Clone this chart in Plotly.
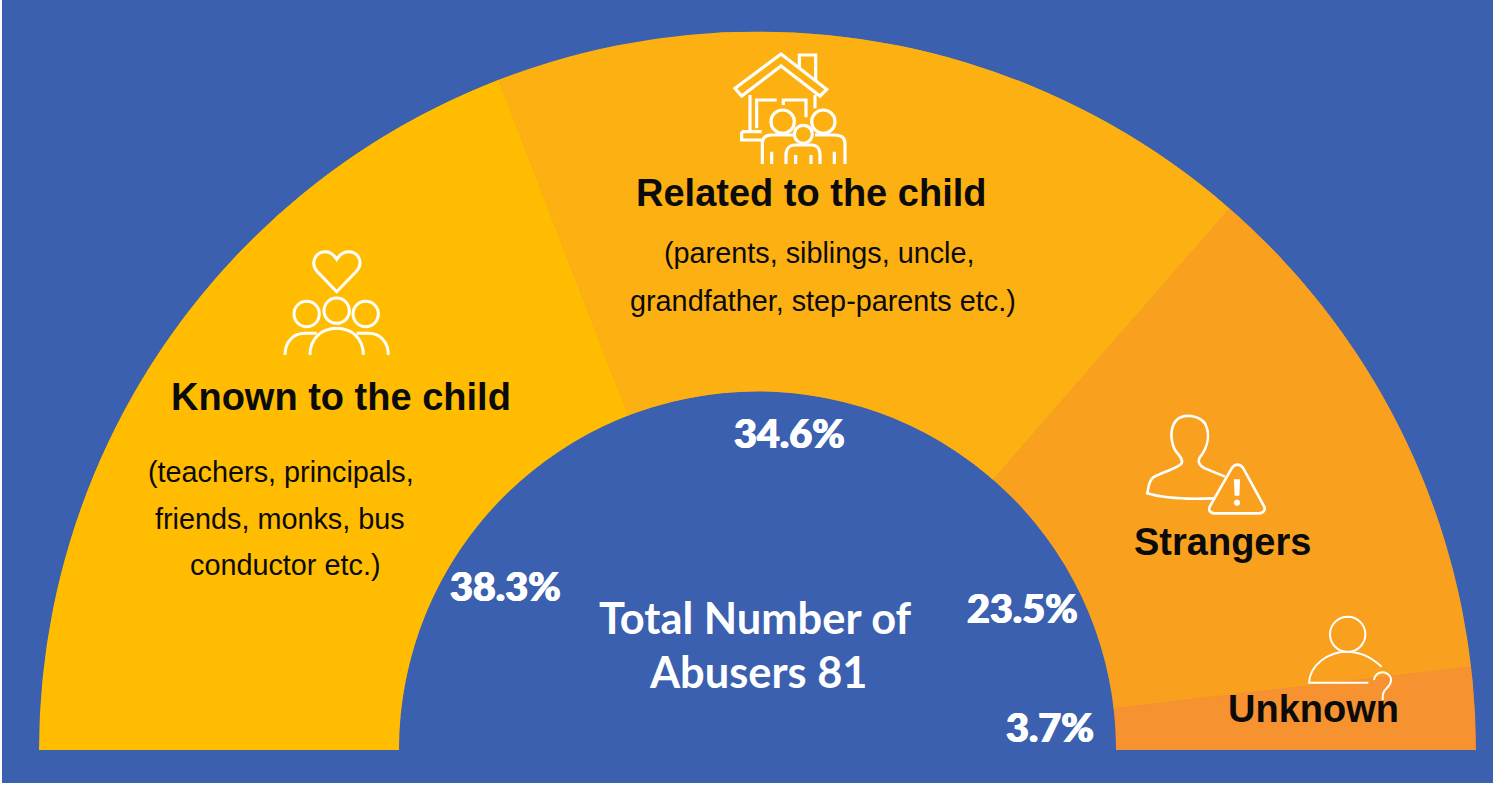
import re
import plotly.graph_objects as go

W, H = 1493, 786

# Abuser relationship shares
categories = ["Known to the child", "Related to the child", "Strangers", "Unknown"]
shares = [38.3, 34.6, 23.5, 3.7]
wedge_colors = ["#FFBC00", "#FDB012", "#F9A11F", "#F79231"]
total_abusers = 81

BLUE = "#3A60AF"
INK = "#0B0B0B"
WHITE = "#FFFFFF"

# Gauge geometry in page pixels
CX, BASE_Y, R_OUT, R_IN = 757.5, 750, 718.5, 358.5


def px(x):
    return x / W


def py(y):
    return 1 - y / H


def to_paper(path, ox, oy):
    """Turn an icon path drawn on a 3x grid into paper coordinates."""
    out, is_x = [], True
    for tok in re.findall(r"[MLCZ]|-?\d+\.?\d*", path):
        if tok in "MLCZ":
            out.append(tok)
        else:
            v = float(tok)
            out.append(f"{px(ox + v / 3):.5f}" if is_x else f"{py(oy + v / 3):.5f}")
            is_x = not is_x
    s, i = [], 0
    while i < len(out):
        if out[i] in "MLCZ":
            s.append(out[i])
            i += 1
        else:
            s.append(f"{out[i]},{out[i + 1]}")
            i += 2
    return " ".join(s)


def line_shape(path, ox, oy, width=3, fill="rgba(0,0,0,0)"):
    return dict(type="path", xref="paper", yref="paper", path=to_paper(path, ox, oy),
                line=dict(color=WHITE, width=width), fillcolor=fill, layer="above")


def ring(cx, cy, r, ox, oy, width=3, fill="rgba(0,0,0,0)"):
    return dict(type="circle", xref="paper", yref="paper",
                x0=px(ox + (cx - r) / 3), x1=px(ox + (cx + r) / 3),
                y0=py(oy + (cy + r) / 3), y1=py(oy + (cy - r) / 3),
                line=dict(color=WHITE, width=width), fillcolor=fill, layer="above")


def label(text, x, y, size, color=INK, family="Liberation Sans", weight=400, shadow=None):
    font = dict(family=family, size=size, color=color, weight=weight)
    if shadow:
        font["shadow"] = shadow
    return dict(text=text, x=px(x), y=py(y), xref="paper", yref="paper",
                xanchor="center", yanchor="middle", showarrow=False, font=font)


# Half-ring wedges, clockwise from the left end
span = sum(shares)
widths = [s * 180 / span for s in shares]
mids, run = [], 0
for w in widths:
    mids.append(run + w / 2)
    run += w

fig = go.Figure(go.Barpolar(
    r=[1] * len(shares), theta=mids, width=widths,
    marker=dict(color=wedge_colors, line=dict(width=0.8, color=wedge_colors)),
    text=categories, hoverinfo="text", showlegend=False,
))

shapes = [dict(type="rect", xref="paper", yref="paper", x0=px(2), x1=1, y0=py(783), y1=1,
               fillcolor=BLUE, line=dict(width=0), layer="below")]

# House and family
H0 = (700, 40)
for p in [
    "M105,145 L243,42 L380,148 L360,168 L243,78 L125,168 Z",
    "M298,85 L298,45 L347,45 L347,125",
    "M150,165 L150,275 M125,275 L185,275 M125,275 L125,300 L185,300",
    "M170,265 L170,180 L230,180 M250,195 L250,180 L318,180 L318,232",
    "M345,165 L345,205",
    "M187,372 L187,310 C187,295 195,285 215,285 L280,285",
    "M435,372 L435,310 C435,295 425,285 405,285 L345,285",
    "M258,372 L258,345 C258,325 270,315 285,315 L335,315 C350,315 360,325 360,345 L360,372",
    "M215,335 L215,372 M287,345 L287,372 M333,345 L333,372 M403,335 L403,372",
]:
    shapes.append(line_shape(p, *H0, width=3.2))
shapes += [ring(248, 245, 35, *H0, width=3.2), ring(370, 245, 35, *H0, width=3.2),
           ring(310, 283, 27, *H0, width=3.2)]

# Heart over a group of three
K0 = (260, 240)
for p in [
    "M230,155 L172,95 C150,70 165,35 197,35 C212,35 222,45 230,58 C238,45 250,35 265,35 C297,35 312,70 288,95 Z",
    "M150,345 C150,295 185,265 230,265 C275,265 310,295 310,345",
    "M75,345 C75,305 100,280 135,280 L170,280",
    "M385,345 C385,305 360,280 325,280 L290,280",
]:
    shapes.append(line_shape(p, *K0))
shapes += [ring(140, 222, 38, *K0), ring(230, 212, 38, *K0), ring(317, 222, 38, *K0)]

# Stranger with a warning triangle
S0 = (1130, 400)
shapes.append(line_shape(
    "M285,230 L225,205 C205,195 200,180 215,165 C235,135 240,100 225,70 C205,45 160,40 140,60 "
    "C120,80 120,120 135,150 C145,165 160,175 155,190 C145,205 100,215 70,232 C55,245 55,265 52,280 "
    "C100,295 180,298 250,295", *S0, width=2.6))
shapes.append(line_shape(
    "M305,205 C315,190 330,190 340,205 L400,315 C410,330 400,340 385,340 L255,340 "
    "C240,340 232,330 242,315 Z", *S0, width=2.6))
shapes.append(line_shape("M314,240 L328,240 L326,285 L316,285 Z", *S0, width=1.5, fill=WHITE))
shapes.append(ring(321, 308, 8, *S0, width=1, fill=WHITE))

# Unknown person with a question mark
U0 = (1200, 600)
shapes.append(ring(443, 103, 53, *U0, width=2))
shapes.append(line_shape(
    "M545,200 C510,170 480,155 440,155 C385,155 330,195 327,248 L505,248", *U0, width=2))
shapes.append(line_shape(
    "M522,240 C525,220 545,212 560,220 C580,232 575,250 560,265 C548,275 548,285 548,300",
    *U0, width=2))

BOLD = 700
HEAVY = "0.7px 0 0 #FFFFFF, -0.7px 0 0 #FFFFFF"
annotations = [
    label(categories[0], 341, 397, 38, weight=BOLD),
    label("(teachers, principals,", 281, 472, 28.8),
    label("friends, monks, bus", 280, 519, 28.8),
    label("conductor etc.)", 285, 565, 28.8),
    label(categories[1], 811, 193, 38, weight=BOLD),
    label("(parents, siblings, uncle,", 819, 253, 28.8),
    label("grandfather, step-parents etc.)", 823, 301, 28.8),
    label(categories[2], 1222, 542, 38, weight=BOLD),
    label(categories[3], 1313, 709, 38, weight=BOLD),
    label(f"{shares[0]}%", 506, 585, 39.5, WHITE, "Lato", 900, HEAVY),
    label(f"{shares[1]}%", 789, 432, 39.5, WHITE, "Lato", 900, HEAVY),
    label(f"{shares[2]}%", 1022, 607, 39.5, WHITE, "Lato", 900, HEAVY),
    label(f"{shares[3]}%", 1050, 726, 39.5, WHITE, "Lato", 900, HEAVY),
    label("Total Number of", 755, 617, 43.4, WHITE, "Lato", 700),
    label(f"Abusers {total_abusers}", 758, 671, 43.4, WHITE, "Lato", 700),
]

fig.update_layout(
    width=W, height=H, autosize=False,
    margin=dict(l=0, r=0, t=0, b=0),
    paper_bgcolor=WHITE,
    polar=dict(
        domain=dict(x=[px(CX - R_OUT), px(CX + R_OUT)], y=[py(BASE_Y), py(BASE_Y - R_OUT)]),
        sector=[0, 180], hole=R_IN / R_OUT, bgcolor="rgba(0,0,0,0)",
        bargap=0,
        radialaxis=dict(visible=False, range=[0, 1]),
        angularaxis=dict(visible=False, rotation=180, direction="clockwise"),
    ),
    shapes=shapes,
    annotations=annotations,
)

fig.write_html("out.html", config=dict(displayModeBar=False))
